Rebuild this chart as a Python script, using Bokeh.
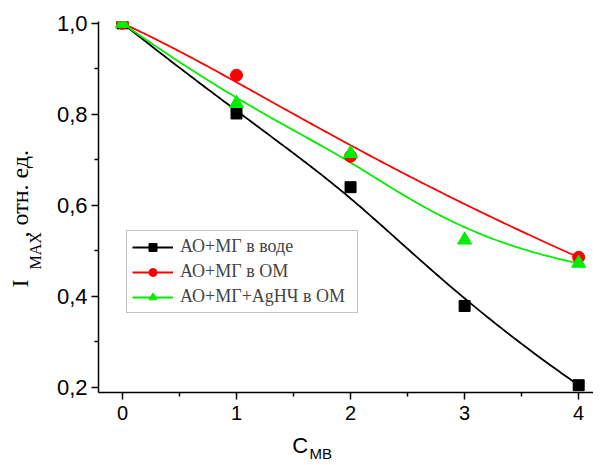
import numpy as np
from bokeh.plotting import figure
from bokeh.models import Range1d, Legend, LegendItem, Title, FixedTicker
from bokeh.embed import file_html
from bokeh.resources import INLINE

# ---- data ----
x_black = [0, 1, 2, 3, 4]
y_black = [1.0, 0.802, 0.640, 0.379, 0.205]
x_red = [0, 1, 2, 4]
y_red = [1.0, 0.886, 0.708, 0.486]
x_green = [0, 1, 2, 3, 4]
y_green = [1.0, 0.824, 0.714, 0.524, 0.473]

labels = ["АО+МГ в воде", "АО+МГ в ОМ", "АО+МГ+AgНЧ в ОМ"]
x_ticks = [0, 1, 2, 3, 4]
y_ticks = [0.2, 0.4, 0.6, 0.8, 1.0]
y_tick_labels = {0.2: "0,2", 0.4: "0,4", 0.6: "0,6", 0.8: "0,8", 1.0: "1,0"}


def bspline(xc, yc, n=200):
    """Clamped uniform B-spline (Origin 'B-Spline' connect) with the data as control points."""
    P = np.column_stack([xc, yc]).astype(float)
    m = len(P) - 1
    k = min(3, m)
    interior = list(np.linspace(0, 1, m - k + 2)[1:-1])
    knots = np.array([0.0] * (k + 1) + interior + [1.0] * (k + 1))
    out = []
    for t in np.linspace(0, 1, n):
        if t >= 1.0:
            out.append(P[-1])
            continue
        s = np.searchsorted(knots, t, side="right") - 1
        d = [P[j + s - k].copy() for j in range(k + 1)]
        for r in range(1, k + 1):
            for j in range(k, r - 1, -1):
                i = j + s - k
                a = (t - knots[i]) / (knots[i + k - r + 1] - knots[i])
                d[j] = (1 - a) * d[j - 1] + a * d[j]
        out.append(d[k])
    out = np.array(out)
    return out[:, 0], out[:, 1]


W, H = 593, 463
p = figure(width=W, height=H, output_backend="svg", toolbar_location=None,
           x_range=Range1d(-0.21, 4.13), y_range=Range1d(0.189, 1.004),
           min_border_left=98, min_border_right=0, min_border_top=21, min_border_bottom=71)
p.outline_line_color = None
p.xgrid.visible = False
p.ygrid.visible = False

for ax in (p.xaxis[0], p.yaxis[0]):
    ax.axis_line_color = "black"
    ax.axis_line_width = 1.5
    ax.major_tick_line_width = 1.5
    ax.minor_tick_line_width = 1.5
    ax.major_tick_in = 0
    ax.major_tick_out = 7
    ax.minor_tick_in = 0
    ax.minor_tick_out = 4
    ax.major_label_text_font = "Liberation Sans"
    ax.major_label_text_color = "black"

p.yaxis.axis_label = None
p.xaxis.ticker = FixedTicker(ticks=x_ticks, minor_ticks=[0.5, 1.5, 2.5, 3.5])
p.yaxis.ticker = FixedTicker(ticks=y_ticks, minor_ticks=[0.3, 0.5, 0.7, 0.9])
p.yaxis.major_label_overrides = y_tick_labels
p.xaxis.major_label_text_font_size = "20px"
p.yaxis.major_label_text_font_size = "22px"
p.xaxis.major_label_standoff = 6
p.yaxis.major_label_standoff = 4

# x-axis label "C" (the subscript "MB" is a title below); trailing no-break
# spaces move the centred label to the left, as in the original
p.xaxis.axis_label = "C" + "\u00a0" * 15
p.xaxis.axis_label_text_font = "Liberation Sans"
p.xaxis.axis_label_text_font_size = "22px"
p.xaxis.axis_label_text_font_style = "normal"
p.xaxis.axis_label_text_color = "black"
p.xaxis.axis_label_standoff = 10

bx, by = bspline(x_black, y_black)
rx, ry = bspline(x_red, y_red)
gx, gy = bspline(x_green, y_green)

lb = p.line(bx, by, line_color="black", line_width=1.8)
lr = p.line(rx, ry, line_color="#ff0000", line_width=1.8)
lg = p.line(gx, gy, line_color="#00ee00", line_width=1.8)

sb = p.scatter(x_black, y_black, marker="square", size=11, color="black")
sr = p.scatter(x_red, y_red, marker="circle", size=12, color="#ff0000")
sg = p.scatter(x_green, y_green, marker="triangle", size=14, color="#00ee00")

legend = Legend(items=[LegendItem(label=labels[0], renderers=[lb, sb]),
                       LegendItem(label=labels[1], renderers=[lr, sr]),
                       LegendItem(label=labels[2], renderers=[lg, sg])],
                location=(28, 79), orientation="vertical",
                label_text_font="Liberation Serif", label_text_font_size="18px",
                glyph_width=41, glyph_height=20, label_height=20, label_width=172,
                spacing=4, label_standoff=7, padding=5, margin=0,
                border_line_color="#888888", border_line_width=1,
                background_fill_alpha=1.0)
p.add_layout(legend, "center")


def title(text, side, font, size, offset, standoff, valign="bottom"):
    t = Title(text=text, align="left", offset=offset, standoff=standoff,
              vertical_align=valign,
              text_font=font, text_font_size=size, text_font_style="normal",
              text_color="black")
    p.add_layout(t, side)


# y-axis label: I_MAX, отн. ед.  (subscript in an inner panel)
title("MAX", "left", "Liberation Serif", "16px", 123, 19)
title("I" + "\u00a0" * 7 + ", отн. ед.", "left", "Liberation Serif", "24px", 105, -34)

# subscript of the x-axis label
title("MB", "below", "Liberation Sans", "15px", 211, -32, "top")

open("out.html", "w").write(file_html(p, INLINE))
